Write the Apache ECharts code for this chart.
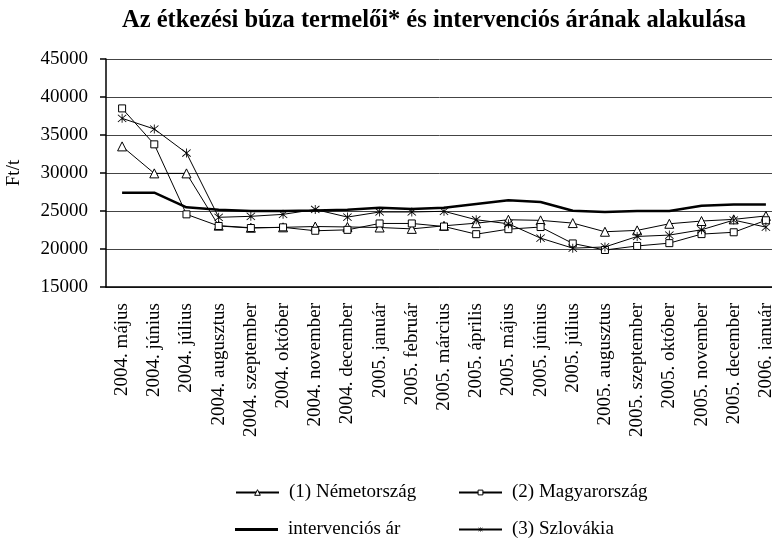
<!DOCTYPE html>
<html>
<head>
<meta charset="utf-8">
<script src="https://cdn.jsdelivr.net/npm/echarts@6/dist/echarts.min.js"></script>
<style>
  html, body { margin: 0; padding: 0; background: #fff; }
  #chart { width: 772px; height: 540px; }
</style>
</head>
<body>
<div id="chart"></div>
<script>
// honapok
var months = ['2004. május', '2004. június', '2004. július', '2004. augusztus', '2004. szeptember',
  '2004. október', '2004. november', '2004. december', '2005. január', '2005. február',
  '2005. március', '2005. április', '2005. május', '2005. június', '2005. július',
  '2005. augusztus', '2005. szeptember', '2005. október', '2005. november', '2005. december',
  '2006. január']

var nemetorszag = [33500, 29950, 29950, 23070, 22800, 22850, 22960, 22900, 22830, 22650, 23050,
  23400, 23850, 23770, 23410, 22270, 22450, 23320, 23680, 23900, 24350]
var magyarorszag = [38500, 33770, 24560, 23030, 22760, 22850, 22400, 22520, 23360, 23360, 22960,
  21950, 22610, 22890, 20730, 19870, 20400, 20770, 21960, 22200, 23780]
var szlovakia = [37190, 35790, 32630, 24170, 24300, 24560, 25200, 24200, 24870, 24870, 24960,
  23850, 23320, 21430, 20110, 20270, 21650, 21830, 22530, 23800, 22880]
var intervencios = [27410, 27410, 25480, 25170, 25000, 25000, 25050, 25180, 25440, 25270, 25440,
  25930, 26420, 26190, 25040, 24870, 25000, 25000, 25700, 25840, 25840]

var yTicks = [15000, 20000, 25000, 30000, 35000, 40000, 45000]

var names = ['(1) Németország', '(2) Magyarország', 'intervenciós ár', '(3) Szlovákia']

var serif = '"Liberation Serif", "DejaVu Serif", serif'
// csillag jel (x + fuggoleges vonal)
var starPath = 'path://M4.6,0 L5.4,0 L5.4,10 L4.6,10 Z ' +
  'M1.3,0.7 L9.3,8.7 L8.7,9.3 L0.7,1.3 Z ' +
  'M8.7,0.7 L9.3,1.3 L1.3,9.3 L0.7,8.7 Z'

function legendAt(item, left, top, h, hollow) {
  var lg = {
    data: [item],
    left: left,
    top: top,
    padding: 0,
    itemWidth: 43,
    itemHeight: h,
    textStyle: { fontFamily: serif, fontSize: 19, color: '#000', padding: [0, 0, 0, 5] }
  }
  if (hollow) {
    lg.itemStyle = { color: '#fff', borderColor: '#000', borderWidth: 1 }
  }
  return lg
}

var chart = echarts.init(document.getElementById('chart'))
chart.setOption({
  animation: false,
  backgroundColor: '#fff',
  title: {
    text: 'Az étkezési búza termelői* és intervenciós árának alakulása',
    left: 117,
    top: 3,
    textStyle: { fontFamily: serif, fontSize: 24.5, fontWeight: 'bold', color: '#000' }
  },
  legend: [
    legendAt(names[0], 235, 483, 7, true),
    legendAt(names[1], 458, 483, 6, true),
    legendAt({ name: names[2], icon: 'rect' }, 235, 520, 3, false),
    legendAt(names[3], 458, 520, 6, false)
  ],
  grid: { left: 106, top: 59, width: 676, height: 228, containLabel: false, outerBoundsMode: 'none' },
  xAxis: {
    type: 'category',
    data: months,
    axisLine: { lineStyle: { color: '#000', width: 1.5 } },
    axisTick: { length: 6, lineStyle: { color: '#000', width: 1.5 } },
    axisLabel: { rotate: 90, interval: 0, margin: 16, fontFamily: serif, fontSize: 19, color: '#000' }
  },
  yAxis: {
    type: 'value',
    min: 15000,
    max: 45000,
    interval: 5000,
    name: 'Ft/t',
    nameLocation: 'middle',
    nameGap: 82,
    nameTextStyle: { fontFamily: serif, fontSize: 19, color: '#000' },
    axisLine: { show: true, lineStyle: { color: '#000', width: 1.5 } },
    axisTick: { show: true, length: 6, lineStyle: { color: '#000', width: 1.5 } },
    axisLabel: {
      margin: 18, fontFamily: serif, fontSize: 19, color: '#000',
      formatter: function (v) { return yTicks.indexOf(v) >= 0 ? String(v) : '' }
    },
    splitLine: { lineStyle: { color: '#444', width: 1 } }
  },
  series: [
    {
      name: names[0], type: 'line', data: nemetorszag,
      symbol: 'triangle', symbolSize: 9,
      lineStyle: { color: '#000', width: 1 },
      itemStyle: { color: '#fff', borderColor: '#000', borderWidth: 1 }
    },
    {
      name: names[1], type: 'line', data: magyarorszag,
      symbol: 'rect', symbolSize: 7,
      lineStyle: { color: '#000', width: 1 },
      itemStyle: { color: '#fff', borderColor: '#000', borderWidth: 1 }
    },
    {
      name: names[2], type: 'line', data: intervencios,
      showSymbol: false, symbol: 'none',
      lineStyle: { color: '#000', width: 2.5 },
      itemStyle: { color: '#000' }
    },
    {
      name: names[3], type: 'line', data: szlovakia,
      symbol: starPath, symbolSize: 9,
      lineStyle: { color: '#000', width: 1 },
      itemStyle: { color: '#000' }
    }
  ]
})
</script>
</body>
</html>
